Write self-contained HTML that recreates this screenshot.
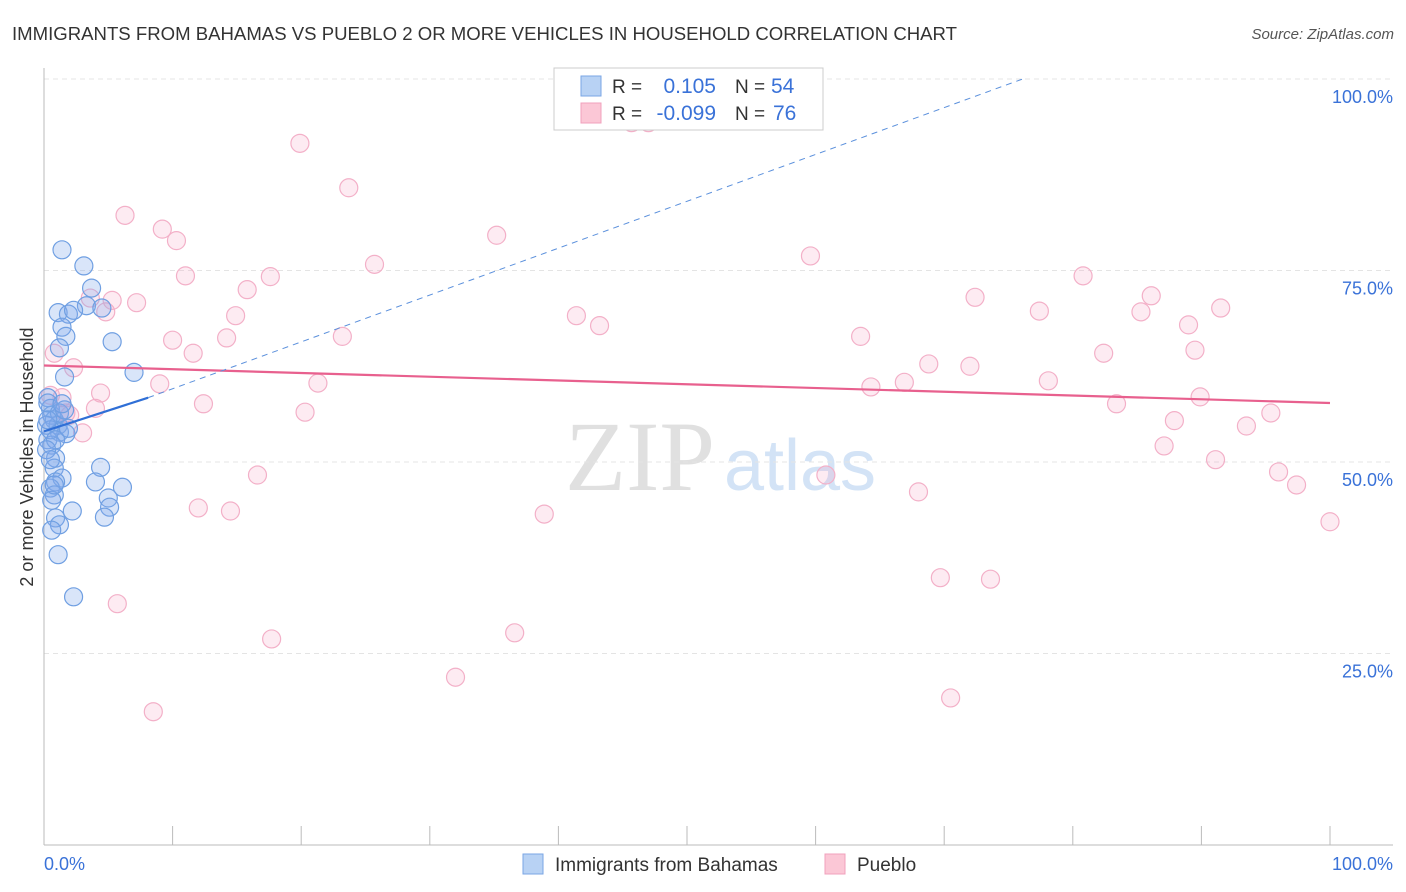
<!DOCTYPE html>
<html><head><meta charset="utf-8">
<style>
body{margin:0;background:#fff;font-family:"Liberation Sans",sans-serif;}
svg{display:block}
</style></head><body>
<svg id="c" width="1406" height="892">
<text x="12" y="40" font-size="18" fill="#333" textLength="945" lengthAdjust="spacingAndGlyphs">IMMIGRANTS FROM BAHAMAS VS PUEBLO 2 OR MORE VEHICLES IN HOUSEHOLD CORRELATION CHART</text>
<text x="1394" y="39" font-size="15" fill="#555" font-style="italic" text-anchor="end">Source: ZipAtlas.com</text>
<text x="640" y="490" font-size="100" fill="#e0e0e0" font-family="Liberation Serif,serif" text-anchor="middle">ZIP</text>
<text x="800" y="490" font-size="72" fill="#d3e3f6" text-anchor="middle">atlas</text>
<g id="grid"></g><g id="axes"></g><g id="pts"></g><g id="trend"></g>
<text transform="translate(33,457) rotate(-90)" font-size="18" fill="#333" text-anchor="middle">2 or more Vehicles in Household</text>
<g>
<rect x="554" y="68" width="269" height="62" fill="#fff" stroke="#ccc"/>
<rect x="581" y="76" width="20" height="20" fill="#b8d2f4" stroke="#7aa6e4"/>
<rect x="581" y="103" width="20" height="20" fill="#fbc7d6" stroke="#f0a0bc"/>
<text x="612" y="93" font-size="19" fill="#333">R =</text><text x="716" y="93" font-size="21" fill="#3a72d8" text-anchor="end">0.105</text>
<text x="735" y="93" font-size="19" fill="#333">N =</text><text x="771" y="93" font-size="21" fill="#3a72d8">54</text>
<text x="612" y="120" font-size="19" fill="#333">R =</text><text x="716" y="120" font-size="21" fill="#3a72d8" text-anchor="end">-0.099</text>
<text x="735" y="120" font-size="19" fill="#333">N =</text><text x="773" y="120" font-size="21" fill="#3a72d8">76</text>
</g>
<g>
<rect x="523" y="854" width="20" height="20" fill="#b8d2f4" stroke="#7aa6e4"/>
<text x="555" y="871" font-size="19" fill="#333">Immigrants from Bahamas</text>
<rect x="825" y="854" width="20" height="20" fill="#fbc7d6" stroke="#f0a0bc"/>
<text x="857" y="871" font-size="19" fill="#333">Pueblo</text>
</g>
</svg>
<script>
const blueX=[1.4,3.1,3.7,3.3,1.1,1.9,1.4,1.7,1.2,1.6,5.3,7.0,4.5,2.3,0.3,0.5,0.6,0.8,1.1,1.2,1.7,0.3,0.6,0.9,0.8,1.4,0.9,0.5,0.8,0.6,0.9,1.2,0.6,1.1,2.3,2.2,4.4,4.0,5.0,5.1,4.7,6.1,0.3,0.2,0.5,0.9,1.2,1.6,1.9,0.2,0.8,0.3,1.4,0.5];
const blueY=[77.7,75.6,72.7,70.4,69.5,69.3,67.6,66.4,64.9,61.1,65.7,61.7,70.1,69.8,58.4,57.0,56.1,55.5,54.8,53.9,53.7,52.9,52.2,50.5,49.2,47.9,47.4,46.6,45.7,45.0,42.7,41.8,41.1,37.9,32.4,43.6,49.3,47.4,45.3,44.1,42.8,46.7,57.7,54.8,54.2,52.9,56.4,56.8,54.4,51.6,47.0,55.5,57.6,50.3];
const pinkX=[0.8,1.4,2.0,2.3,3.0,3.6,4.0,4.4,4.8,5.3,5.7,6.3,7.2,8.5,9.0,9.2,10.0,10.3,11.0,11.6,12.0,12.4,14.2,14.5,14.9,15.8,16.6,17.6,17.7,19.9,20.3,21.3,23.2,23.7,25.7,32.0,35.2,36.6,38.9,41.4,43.2,45.7,47.0,59.6,60.8,63.5,64.3,66.9,68.0,68.8,69.7,70.5,72.0,72.4,73.6,77.4,78.1,80.8,82.4,83.4,85.3,86.1,87.1,87.9,89.0,89.5,89.9,91.1,91.5,93.5,95.4,96.0,97.4,100.0,0.5,1.7];
const pinkY=[64.2,58.4,56.1,62.3,53.8,71.4,57.0,59.0,69.6,71.1,31.5,82.2,70.8,17.4,60.2,80.4,65.9,78.9,74.3,64.2,44.0,57.6,66.2,43.6,69.1,72.5,48.3,74.2,26.9,91.6,56.5,60.3,66.4,85.8,75.8,21.9,79.6,27.7,43.2,69.1,67.8,94.3,94.3,76.9,48.3,66.4,59.8,60.4,46.1,62.8,34.9,19.2,62.5,71.5,34.7,69.7,60.6,74.3,64.2,57.6,69.6,71.7,52.1,55.4,67.9,64.6,58.5,50.3,70.1,54.7,56.4,48.7,47.0,42.2,58.7,56.4];
const yTicks=[25,50,75,100];
const yTickLabels=["25.0%","50.0%","75.0%","100.0%"];
const blueTrendX=[0,8.1,76.1];
const blueTrendY=[54.0,58.4,100];
const pinkTrendX=[0,100];
const pinkTrendY=[62.6,57.7];

const NS="http://www.w3.org/2000/svg";
const sx=v=>44+v*12.86, sy=v=>845-v*7.66;
function mk(tag,attrs,parent){const e=document.createElementNS(NS,tag);for(const k in attrs)e.setAttribute(k,attrs[k]);parent.appendChild(e);return e;}
const grid=document.getElementById('grid'),axes=document.getElementById('axes'),pts=document.getElementById('pts'),tr=document.getElementById('trend');
yTicks.forEach((t,i)=>{
  const l=mk('line',{x1:44,x2:1393,y1:sy(t),y2:sy(t),stroke:'#e4e4e4','stroke-dasharray':'5,4'},grid);
  
  
  const tx=mk('text',{x:1393,y:sy(t)+24,'font-size':18,fill:'#3a72d8','text-anchor':'end'},grid);
  tx.textContent=yTickLabels[i];
  
  
});
mk('line',{x1:44,x2:44,y1:68,y2:845,stroke:'#bbb'},axes);
mk('line',{x1:44,x2:1393,y1:845,y2:845,stroke:'#bbb'},axes);
for(let i=0;i<=10;i++){const t=mk('line',{x1:sx(i*10),x2:sx(i*10),y1:826,y2:845,stroke:'#bbb'},axes);
  
  }
const x0=mk('text',{x:44,y:870,'font-size':18,fill:'#3a72d8'},axes);x0.textContent='0.0%';


const x1=mk('text',{x:1393,y:870,'font-size':18,fill:'#3a72d8','text-anchor':'end'},axes);x1.textContent='100.0%';


pinkX.forEach((x,i)=>{const c=mk('circle',{cx:sx(x),cy:sy(pinkY[i]),r:9,fill:'rgba(246,165,195,0.22)',stroke:'#f3b0c8','stroke-width':1.2},pts);
  
  });
blueX.forEach((x,i)=>{const c=mk('circle',{cx:sx(x),cy:sy(blueY[i]),r:9,fill:'rgba(130,170,235,0.3)',stroke:'#6f9fe2','stroke-width':1.2},pts);
  
  });
const pl=mk('line',{x1:sx(pinkTrendX[0]),y1:sy(pinkTrendY[0]),x2:sx(pinkTrendX[1]),y2:sy(pinkTrendY[1]),stroke:'#e8608e','stroke-width':2.2},tr);


const bl=mk('line',{x1:sx(blueTrendX[0]),y1:sy(blueTrendY[0]),x2:sx(blueTrendX[1]),y2:sy(blueTrendY[1]),stroke:'#2f6fd6','stroke-width':2.2},tr);


const bd=mk('line',{x1:sx(blueTrendX[1]),y1:sy(blueTrendY[1]),x2:sx(blueTrendX[2]),y2:sy(blueTrendY[2]),stroke:'#5b90dc','stroke-width':1,'stroke-dasharray':'6,5'},tr);


</script>
</body></html>
